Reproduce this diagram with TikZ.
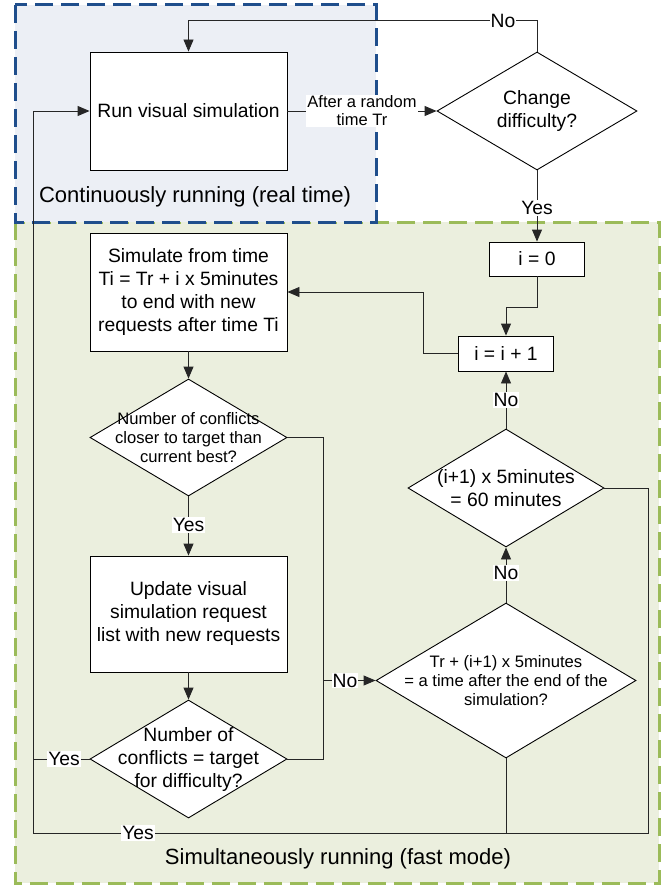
\documentclass[tikz,border=0pt]{standalone}
\usepackage{fontspec}
\setmainfont{Liberation Sans}
\usetikzlibrary{shapes.geometric,arrows.meta}
\definecolor{bluefill}{RGB}{236,239,245}
\definecolor{bluedash}{RGB}{31,78,140}
\definecolor{greenfill}{RGB}{235,239,222}
\definecolor{greendash}{RGB}{155,187,89}
\tikzset{
  box/.style={draw=black, fill=white, line width=0.9pt, inner sep=0pt, minimum width=197pt, minimum height=118pt},
  smallbox/.style={draw=black, fill=white, line width=0.9pt, inner sep=0pt, minimum width=95pt, minimum height=35pt, font=\fontsize{19.3}{23}\selectfont},
  dia/.style={diamond, draw=black, fill=white, line width=0.9pt, inner sep=0pt},
  txt/.style={align=center, font=\fontsize{19.3}{23}\selectfont, inner sep=0pt},
  stxt/.style={align=center, font=\fontsize{16.6}{19.4}\selectfont, inner sep=0pt},
  lbl/.style={fill=white, inner sep=1pt, font=\fontsize{19.3}{23}\selectfont},
  slbl/.style={fill=white, inner sep=1.5pt, align=center, font=\fontsize{16.5}{17.8}\selectfont},
  grouplbl/.style={inner sep=0pt, font=\fontsize{22}{26}\selectfont},
  conn/.style={line width=0.9pt, draw=black!85},
  arr/.style={conn, -{Triangle[length=12pt,width=10pt]}},
  grp/.style={line width=3pt, dash pattern=on 18pt off 8pt},
}
\begin{document}
\begin{tikzpicture}[x=1pt,y=-1pt]
\useasboundingbox (0,0) rectangle (666,888);
% containers
\fill[greenfill] (15,222) rectangle (659,883);
\draw[grp, greendash] (15,222) rectangle (659,883);
\fill[bluefill] (15,5) rectangle (376,222);
\draw[grp, bluedash] (15,5) rectangle (376,222);
\node[grouplbl] (g1) at (195,197) {Continuously running (real time)};
\node[grouplbl] (g2) at (338,859) {Simultaneously running (fast mode)};

% nodes
\node[box] (run) at (188.5,111) {};
\node[txt] (runt) at (run) {Run visual simulation};
\node[dia, minimum width=200pt, minimum height=118pt] (chg) at (537,111) {};
\node[txt] (chgt) at (chg) {Change\\difficulty?};
\node[smallbox, minimum height=34pt] (i0) at (537,259) {i = 0};
\node[smallbox] (inc) at (506,353.5) {i = i + 1};
\node[box] (sim) at (188.5,292) {};
\node[txt] (simt) at (sim) {Simulate from time\\Ti = Tr + i x 5minutes\\to end with new\\requests after time Ti};
\node[dia, minimum width=197pt, minimum height=117pt] (d1) at (188.5,437.5) {};
\node[stxt] (d1t) at (d1) {Number of conflicts\\closer to target than\\current best?};
\node[box, minimum height=116pt] (upd) at (188.5,614) {};
\node[txt] (updt) at (upd) {Update visual\\simulation request\\list with new requests};
\node[dia, minimum width=197pt, minimum height=118pt] (d4) at (188.5,759) {};
\node[txt] (d4t) at (d4) {Number of\\conflicts = target\\for difficulty?};
\node[dia, minimum width=196pt, minimum height=118pt] (d2) at (506,488) {};
\node[txt] (d2t) at (d2) {(i+1) x 5minutes\\= 60 minutes};
\node[dia, minimum width=260pt, minimum height=155pt] (d3) at (506,680.5) {};
\node[stxt] (d3t) at (d3) {Tr + (i+1) x 5minutes\\= a time after the end of the\\simulation?};

% helper coordinates
\coordinate (k1) at (423,292);
\coordinate (rx) at (323,437.5);
\coordinate (bx) at (648,833);
\coordinate (lx) at (33,833);

% connectors
\draw[arr] (run.east) -- node[slbl] (lab1) {After a random\\time Tr} (chg.west);
\draw[arr] (chg.north) -- ++(0,-31) -| (run.north);
\draw[arr] (chg.south) -- (i0.north);
\draw[arr] (i0.south) -- ++(0,31) -| (inc.north);
\draw[arr] (inc.west) -| (k1) -- (sim.east);
\draw[arr] (sim.south) -- (d1.north);
\draw[arr] (d1.south) -- (upd.north);
\draw[arr] (upd.south) -- (d4.north);
\draw[conn] (d1.east) -- (rx) -- (rx |- d4.east) -- (d4.east);
\draw[arr] (rx |- d3.west) -- (d3.west);
\draw[arr] (d3.north) -- (d2.south);
\draw[arr] (d2.north) -- (inc.south);
\draw[arr] (d2.east) -| (bx) -- (lx) |- (run.west);
\draw[conn] (d3.south) -- (d3.south |- bx);
\draw[conn] (d4.west) -- (lx |- d4.west);

% labels
\node[lbl] (noTop) at (503,21) {No};
\node[lbl] (yesChg) at (537,208) {Yes};
\node[lbl] (yesD1) at (188.5,525) {Yes};
\node[lbl] (noD2) at (506,400) {No};
\node[lbl] (noD3) at (506,573) {No};
\node[lbl] (noD1) at (345,680.5) {No};
\node[lbl] (yesD4) at (64,759) {Yes};
\node[lbl] (yesBot) at (138,833) {Yes};
\end{tikzpicture}
\end{document}
